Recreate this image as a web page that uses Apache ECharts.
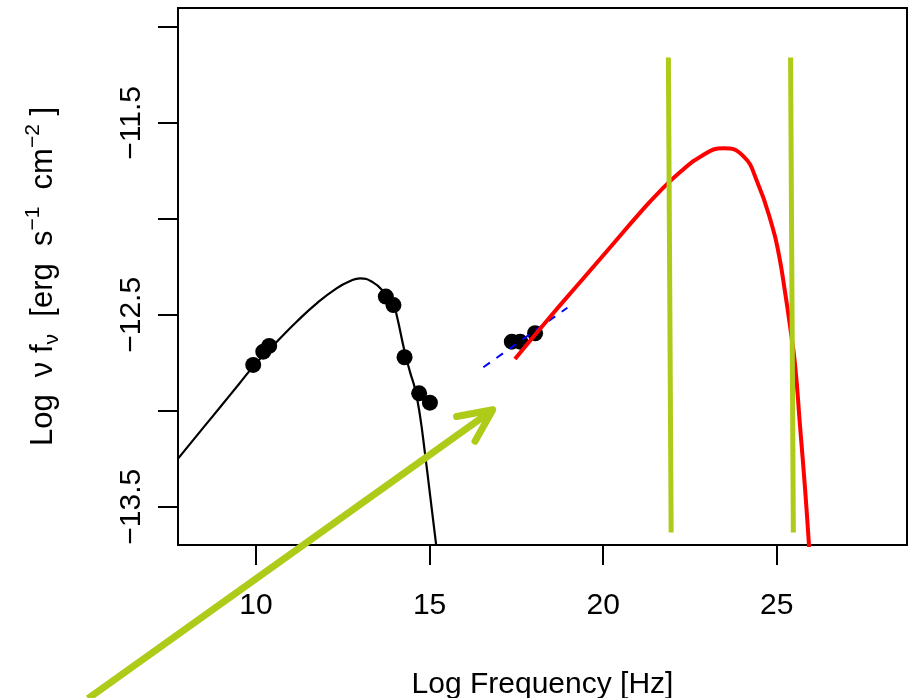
<!DOCTYPE html>
<html>
<head>
<meta charset="utf-8">
<script src="https://cdn.jsdelivr.net/npm/echarts@6/dist/echarts.min.js"></script>
<style>html,body{margin:0;padding:0;background:#fff}#c{width:910px;height:698px}</style>
</head>
<body>
<div id="c"></div>
<script>
// ---- data (log10 frequency, log10 nuFnu) ----
const syncCurve = [
  [7.76,-13.248],[8.50,-13.084],[9.00,-12.974],[9.50,-12.863],[10.00,-12.753],
  [10.60,-12.640],[11.17,-12.536],[11.75,-12.440],[12.32,-12.362],[12.70,-12.325],
  [13.00,-12.310],[13.38,-12.332],[13.67,-12.379],[13.96,-12.449],[14.05,-12.500],
  [14.28,-12.690],[14.44,-12.800],[14.58,-12.885],[14.72,-13.020],[14.87,-13.225],
  [15.01,-13.432],[15.19,-13.699],[15.25,-13.79]
];
const icCurve = [
  [17.46,-12.730],[18.47,-12.511],[19.34,-12.329],[20.20,-12.149],[21.06,-11.969],
  [21.64,-11.855],[22.22,-11.756],[22.79,-11.677],[23.46,-11.632],[24.03,-11.672],
  [24.43,-11.803],[24.87,-12.037],[25.07,-12.193],[25.24,-12.381],[25.38,-12.553],
  [25.53,-12.761],[25.67,-13.074],[25.82,-13.413],[25.93,-13.699],[25.99,-13.856]
];
const syncPoints = [
  [9.92,-12.761],[10.21,-12.692],[10.38,-12.662],[13.74,-12.405],[13.96,-12.449],
  [14.28,-12.721],[14.70,-12.909],[15.01,-12.958]
];
const xrayPoints = [[17.37,-12.640],[17.61,-12.640],[18.04,-12.596]];
const xraySlope = [[16.55,-12.773],[18.97,-12.463]];
const band1 = [[21.88,-11.159],[21.96,-13.634]];
const band2 = [[25.40,-11.159],[25.48,-13.634]];
const arrowShaft = [[5.16,-14.50],[16.82,-12.995]];
const arrowHead = [[15.78,-13.03],[16.82,-12.995],[16.31,-13.159]];
const xTicks = [10,15,20,25];
const yTicks = [-13.5,-13,-12.5,-12,-11.5,-11];
const yTickLabels = [-13.5,-12.5,-11.5];

const GREEN = '#AECB1A';
const FONT = 'Liberation Sans, Arial, Helvetica, sans-serif';
const chart = echarts.init(document.getElementById('c'));
const minus = v => String(v).replace('-', '\u2212');

chart.setOption({
  animation: false,
  backgroundColor: '#fff',
  grid: {left: 178, right: 3, top: 8, bottom: 153, show: true, borderColor: '#000', borderWidth: 2,
    containLabel: false, outerBoundsMode: 'none'},
  xAxis: {
    type: 'value', min: 7.753, max: 28.754,
    splitLine: {show: false},
    axisLine: {show: false},
    axisTick: {show: true, customValues: xTicks, length: 20, lineStyle: {color: '#000', width: 2}},
    axisLabel: {customValues: xTicks, fontSize: 30, color: '#000', fontFamily: FONT, margin: 46},
    name: 'Log Frequency [Hz]', nameLocation: 'middle', nameGap: 125, nameMoveOverlap: false,
    nameTextStyle: {fontSize: 30, color: '#000', fontFamily: FONT}
  },
  yAxis: {
    type: 'value', min: -13.6996, max: -10.901,
    splitLine: {show: false},
    axisLine: {show: false},
    axisTick: {show: true, customValues: yTicks, length: 20, lineStyle: {color: '#000', width: 2}},
    axisLabel: {customValues: yTickLabels, rotate: 90, fontSize: 30, color: '#000', fontFamily: FONT, margin: 31,
      formatter: v => minus(v)},
    name: '{m|Log  \u03bd f}{s|\u03bd}{m|  [erg  s}{p|\u22121}{m|  cm}{p|\u22122}{m| ]}',
    nameLocation: 'middle', nameGap: 115, nameRotate: 90, nameMoveOverlap: false,
    nameTextStyle: {
      color: '#000', fontFamily: FONT, fontSize: 31,
      rich: {
        m: {fontSize: 31, lineHeight: 40, color: '#000', fontFamily: FONT, verticalAlign: 'middle'},
        s: {fontSize: 21, lineHeight: 20, color: '#000', fontFamily: FONT, verticalAlign: 'bottom'},
        p: {fontSize: 21, lineHeight: 20, color: '#000', fontFamily: FONT, verticalAlign: 'top'}
      }
    }
  },
  series: [
    {type: 'line', data: syncCurve, showSymbol: false, smooth: 0.5,
      lineStyle: {color: '#000', width: 2.2}, z: 2},
    {type: 'scatter', data: syncPoints, symbolSize: 16, itemStyle: {color: '#000', opacity: 1}, z: 3},
    {type: 'scatter', data: xrayPoints, symbolSize: 16, itemStyle: {color: '#000', opacity: 1}, z: 3},
    {type: 'line', data: xraySlope, showSymbol: false,
      lineStyle: {color: '#0000FF', width: 2, type: [8, 8]}, z: 4},
    {type: 'line', data: icCurve, showSymbol: false, smooth: 0.5,
      lineStyle: {color: '#FF0000', width: 4}, z: 5},
    {type: 'line', data: band1, showSymbol: false, lineStyle: {color: GREEN, width: 5, cap: 'butt'}, z: 6},
    {type: 'line', data: band2, showSymbol: false, lineStyle: {color: GREEN, width: 5, cap: 'butt'}, z: 6},
    {type: 'custom', clip: false, z: 7, data: [0],
      renderItem: function (params, api) {
        const shaft = arrowShaft.map(p => api.coord(p));
        const head = arrowHead.map(p => api.coord(p));
        return {type: 'group', children: [
          {type: 'polyline', shape: {points: shaft}, style: {stroke: GREEN, lineWidth: 7, fill: null, lineCap: 'butt'}},
          {type: 'polyline', shape: {points: head}, style: {stroke: GREEN, lineWidth: 7, fill: null, lineCap: 'round', lineJoin: 'round'}}
        ]};
      }}
  ]
});
</script>
</body>
</html>
